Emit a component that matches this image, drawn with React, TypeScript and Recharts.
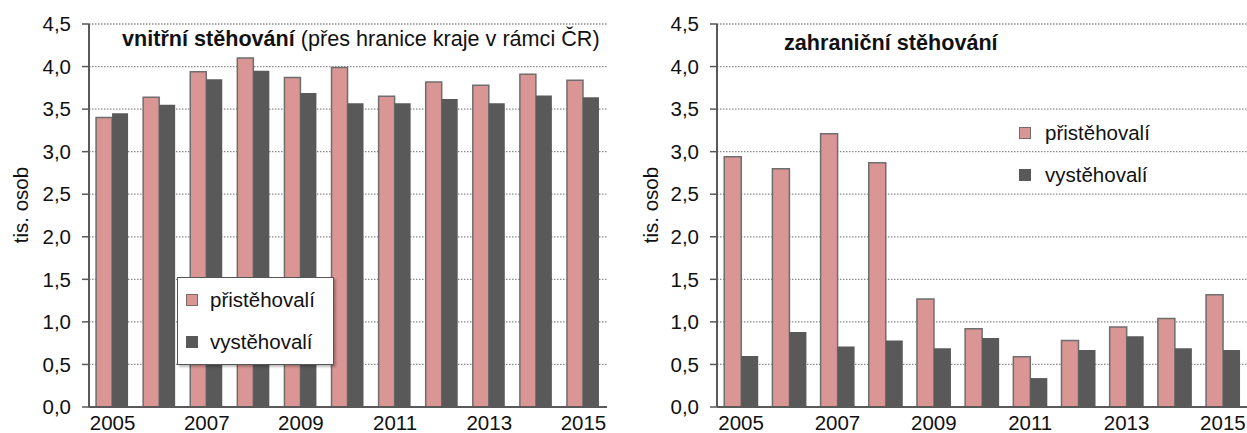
import {
  Bar,
  BarChart,
  CartesianGrid,
  Legend,
  XAxis,
  YAxis,
} from "recharts";

const years = ["2005", "2006", "2007", "2008", "2009", "2010", "2011", "2012", "2013", "2014", "2015"];

// vnitřní stěhování (tis. osob)
const internalIn = [3.4, 3.64, 3.94, 4.1, 3.87, 3.99, 3.65, 3.82, 3.78, 3.91, 3.84];
const internalOut = [3.45, 3.55, 3.85, 3.95, 3.69, 3.57, 3.57, 3.62, 3.57, 3.66, 3.64];

// zahraniční stěhování (tis. osob)
const foreignIn = [2.94, 2.8, 3.21, 2.87, 1.27, 0.92, 0.59, 0.78, 0.94, 1.04, 1.32];
const foreignOut = [0.6, 0.88, 0.71, 0.78, 0.69, 0.81, 0.34, 0.67, 0.83, 0.69, 0.67];

const yTicks = [0, 0.5, 1, 1.5, 2, 2.5, 3, 3.5, 4, 4.5];
const boundTicks = years.map((_, i) => i).concat(years.length);

const PINK = "#d99694";
const DARK = "#595959";
const AXIS = "#595959";
const FONT = "'Liberation Sans', Arial, sans-serif";
const FS = 20.5;
const TITLE_FS = 21.6;

const internalData = years.map((year, i) => ({ year, in: internalIn[i], out: internalOut[i] }));
const foreignData = years.map((year, i) => ({ year, in: foreignIn[i], out: foreignOut[i] }));

const fmt = (v: number) => v.toFixed(1).replace(".", ",");

function Marker({ color, border }: { color: string; border: string }) {
  return (
    <span
      style={{
        display: "inline-block",
        width: 10,
        height: 10,
        background: color,
        border: `1.5px solid ${border}`,
      }}
    />
  );
}

function LegendBox({ boxed }: { boxed: boolean }) {
  return (
    <div
      style={{
        fontFamily: FONT,
        fontSize: FS,
        color: "#111",
        background: boxed ? "#fff" : "transparent",
        border: boxed ? "1.5px solid #555" : "none",
        boxShadow: boxed ? "2px 2px 2px rgba(0,0,0,0.25)" : "none",
        width: boxed ? 157 : 170,
        height: boxed ? 88 : 70,
        boxSizing: "border-box",
        paddingLeft: boxed ? 8 : 5,
        paddingTop: boxed ? 11 : 2,
        whiteSpace: "nowrap",
      }}
    >
      <div style={{ display: "flex", alignItems: "center", height: 22, marginBottom: 20 }}>
        <Marker color={PINK} border="#7a6a6a" />
        <span style={{ marginLeft: boxed ? 12 : 14 }}>přistěhovalí</span>
      </div>
      <div style={{ display: "flex", alignItems: "center", height: 22 }}>
        <Marker color={DARK} border={DARK} />
        <span style={{ marginLeft: boxed ? 12 : 14 }}>vystěhovalí</span>
      </div>
    </div>
  );
}

function MigrationChart({
  data,
  width,
  axisWidth,
  rightMargin,
  labelX,
  title,
  legendPos,
  boxed,
}: {
  data: { year: string; in: number; out: number }[];
  width: number;
  axisWidth: number;
  rightMargin: number;
  labelX: number;
  title: React.ReactNode;
  legendPos: { left: number; top: number };
  boxed: boolean;
}) {
  return (
    <BarChart
      width={width}
      height={433}
      data={data}
      margin={{ top: 24, right: rightMargin, bottom: 0, left: 0 }}
      barCategoryGap="15%"
      barGap={0}
    >
      <CartesianGrid
        vertical={false}
        stroke="#8a8a8a"
        strokeWidth={1.3}
        strokeDasharray="1.5 1.5"
      />
      <XAxis
        xAxisId="bounds"
        type="number"
        domain={[0, years.length]}
        allowDataOverflow
        ticks={boundTicks}
        tick={false}
        tickSize={7}
        tickLine={{ stroke: AXIS, strokeWidth: 1.5 }}
        axisLine={false}
        height={0}
      />
      <XAxis
        dataKey="year"
        interval={1}
        tickLine={false}
        tickSize={6}
        tickMargin={2}
        height={26}
        axisLine={{ stroke: AXIS, strokeWidth: 2 }}
        tick={{ fill: "#111", fontSize: FS, fontFamily: FONT }}
      />
      <XAxis
        xAxisId="top"
        orientation="top"
        dataKey="year"
        height={0}
        tick={false}
        tickLine={false}
        axisLine={{ stroke: AXIS, strokeWidth: 2 }}
      />
      <YAxis
        width={axisWidth}
        domain={[0, 4.5]}
        ticks={yTicks}
        tickFormatter={fmt}
        tickSize={7}
        tickMargin={11}
        tickLine={{ stroke: AXIS, strokeWidth: 1.5 }}
        axisLine={{ stroke: AXIS, strokeWidth: 2 }}
        tick={{ fill: "#111", fontSize: FS, fontFamily: FONT }}
      />
      {rightMargin > 0 && (
        <YAxis
          yAxisId="right"
          orientation="right"
          width={0}
          domain={[0, 4.5]}
          tick={false}
          tickLine={false}
          axisLine={{ stroke: AXIS, strokeWidth: 2 }}
        />
      )}
      <Legend
        layout="vertical"
        align="center"
        verticalAlign="middle"
        wrapperStyle={{ left: legendPos.left, top: legendPos.top }}
        content={() => <LegendBox boxed={boxed} />}
      />
      <Bar
        dataKey="in"
        name="přistěhovalí"
        fill={PINK}
        stroke="#6e6e6e"
        strokeWidth={1.5}
        isAnimationActive={false}
      />
      <Bar
        dataKey="out"
        name="vystěhovalí"
        fill={DARK}
        isAnimationActive={false}
      />
      <text
        x={labelX}
        y={205}
        transform={`rotate(-90 ${labelX} 205)`}
        textAnchor="middle"
        dominantBaseline="central"
        fontFamily={FONT}
        fontSize={FS}
        fill="#111"
      >
        tis. osob
      </text>
      {title}
    </BarChart>
  );
}

export default function App() {
  return (
    <div
      style={{
        position: "absolute",
        left: 0,
        top: 0,
        width: 1247,
        height: 433,
        background: "#fff",
        display: "flex",
        overflow: "hidden",
      }}
    >
      <MigrationChart
        data={internalData}
        width={620}
        axisWidth={89}
        rightMargin={13}
        labelX={20}
        legendPos={{ left: 177, top: 277 }}
        boxed
        title={
          <text x={122} y={46} fontFamily={FONT} fontSize={TITLE_FS} fill="#111">
            <tspan fontWeight="bold">vnitřní stěhování</tspan>
            <tspan> (přes hranice kraje v rámci ČR)</tspan>
          </text>
        }
      />
      <MigrationChart
        data={foreignData}
        width={627}
        axisWidth={97}
        rightMargin={0}
        labelX={30}
        legendPos={{ left: 394, top: 120 }}
        boxed={false}
        title={
          <text x={164} y={50} fontFamily={FONT} fontSize={TITLE_FS} fontWeight="bold" fill="#111">
            zahraniční stěhování
          </text>
        }
      />
    </div>
  );
}
